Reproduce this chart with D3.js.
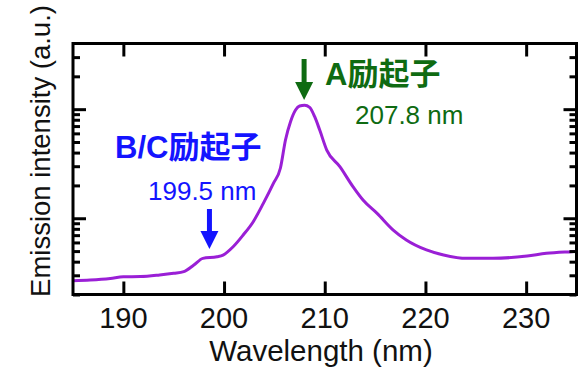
<!DOCTYPE html>
<html>
<head>
<meta charset="utf-8">
<script src="https://cdn.jsdelivr.net/npm/d3@7"></script>
<style>
  html, body { margin: 0; padding: 0; background: #fff; }
  svg { display: block; font-family: "Liberation Sans", Arial, "Noto Sans CJK SC", sans-serif; }
</style>
</head>
<body>
<svg id="chart" width="585" height="367"></svg>
<script>
// Emission spectrum — wavelength (nm) vs intensity (a.u., log scale)
const wavelength = [185.0, 186.7, 188.7, 190.0, 191.7, 193.6, 195.0, 196.0, 197.0, 197.9,
  199.3, 199.9, 200.9, 201.9, 202.9, 203.9, 204.9, 205.6, 206.1, 206.6,
  207.1, 207.5, 208.0, 208.5, 209.0, 209.5, 210.2, 211.5, 212.8, 213.8,
  215.2, 216.8, 218.1, 220.1, 221.8, 224.1, 226.7, 230.1, 232.0, 234.5, 235.0];
const intensity = [0.268, 0.272, 0.281, 0.291, 0.292, 0.302, 0.313, 0.324, 0.373, 0.429,
  0.444, 0.460, 0.548, 0.702, 0.930, 1.37, 2.09, 2.89, 5.22, 7.68,
  9.83, 10.69, 10.85, 10.40, 8.53, 6.44, 4.22, 2.97, 1.95, 1.47,
  1.11, 0.780, 0.632, 0.512, 0.460, 0.429, 0.429, 0.451, 0.477, 0.494, 0.497];

const xTicks = [190, 200, 210, 220, 230];
const yMajor = [1, 10];
const yMinor = [0.2, 0.3, 0.4, 0.5, 0.6, 0.7, 0.8, 0.9, 2, 3, 4, 5, 6, 7, 8, 9, 20, 30];

// peak annotations
const peaks = [
  { label: 'A励起子', nm: '207.8 nm', at: 207.8, color: '#0f6b12' },
  { label: 'B/C励起子', nm: '199.5 nm', at: 198.5, color: '#1414ff' },
];

const M = { left: 73, right: 576.5, top: 43.5, bottom: 294.5 };
const LINE = '#9a1fd6';

const svg = d3.select('#chart');

const x = d3.scaleLinear().domain([185, 235]).range([M.left, M.right]);
const y = d3.scaleLog().domain([0.2, 40]).range([M.bottom, M.top]);

// Spectrum line (clipped to frame)
svg.append('clipPath').attr('id', 'clip')
  .append('rect')
  .attr('x', M.left).attr('y', M.top)
  .attr('width', M.right - M.left).attr('height', M.bottom - M.top);

const pts = wavelength.map((w, i) => [w, intensity[i]]);
svg.append('path')
  .datum(pts)
  .attr('clip-path', 'url(#clip)')
  .attr('fill', 'none')
  .attr('stroke', LINE)
  .attr('stroke-width', 3)
  .attr('stroke-linejoin', 'round')
  .attr('d', d3.line().x(d => x(d[0])).y(d => y(d[1])).curve(d3.curveMonotoneX));

// Axes: ticks pointing inward on every side
function tickAxis(axisFn, scale, vals, size, tf) {
  const a = axisFn(scale).tickValues(vals).tickSize(size).tickFormat('');
  const g = svg.append('g').attr('transform', tf).call(a);
  g.select('.domain').remove();
  g.selectAll('line').attr('stroke', '#000').attr('stroke-width', 3);
  return g;
}

tickAxis(d3.axisTop, x, xTicks, 13, `translate(0,${M.bottom})`);
tickAxis(d3.axisBottom, x, xTicks, 13, `translate(0,${M.top})`);
tickAxis(d3.axisRight, y, yMajor, 13, `translate(${M.left},0)`);
tickAxis(d3.axisRight, y, yMinor, 7, `translate(${M.left},0)`);
tickAxis(d3.axisLeft, y, yMajor, 13, `translate(${M.right},0)`);
tickAxis(d3.axisLeft, y, yMinor, 7, `translate(${M.right},0)`);

// x tick labels
svg.append('g').selectAll('text')
  .data(xTicks)
  .enter().append('text')
  .attr('x', d => x(d))
  .attr('y', 327.5)
  .attr('text-anchor', 'middle')
  .attr('font-size', '29px')
  .attr('fill', '#111')
  .text(d => d);

// frame
svg.append('rect')
  .attr('x', M.left).attr('y', M.top)
  .attr('width', M.right - M.left).attr('height', M.bottom - M.top)
  .attr('fill', 'none').attr('stroke', '#000').attr('stroke-width', 3);

// axis titles
svg.append('text')
  .attr('x', 321).attr('y', 360.5)
  .attr('text-anchor', 'middle')
  .attr('font-size', '29.5px')
  .attr('fill', '#111')
  .text('Wavelength (nm)');

svg.append('text')
  .attr('transform', 'translate(50,151) rotate(-90)')
  .attr('text-anchor', 'middle')
  .attr('font-size', '27.5px')
  .attr('fill', '#111')
  .text('Emission intensity (a.u.)');

// down arrows
function arrow(cx, y0, tip, color) {
  const headH = 18, headW = 9;
  svg.append('line')
    .attr('x1', cx).attr('x2', cx)
    .attr('y1', y0).attr('y2', tip - headH + 2)
    .attr('stroke', color).attr('stroke-width', 5);
  svg.append('path')
    .attr('d', `M${cx - headW},${tip - headH} L${cx + headW},${tip - headH} L${cx},${tip} Z`)
    .attr('fill', color);
}

// A exciton
const pA = peaks[0];
arrow(x(pA.at) + 1.5, 59, 100, pA.color);
svg.append('text')
  .attr('x', 325).attr('y', 85)
  .attr('font-size', '31px').attr('font-weight', 'bold')
  .attr('fill', pA.color)
  .text(pA.label);
svg.append('text')
  .attr('x', 355).attr('y', 124)
  .attr('font-size', '26px')
  .attr('fill', pA.color)
  .text(pA.nm);

// B/C exciton
const pB = peaks[1];
arrow(x(pB.at) + 0.5, 209, 249, pB.color);
svg.append('text')
  .attr('x', 115).attr('y', 158)
  .attr('font-size', '31px').attr('font-weight', 'bold')
  .attr('fill', pB.color)
  .text(pB.label);
svg.append('text')
  .attr('x', 148).attr('y', 200)
  .attr('font-size', '26px')
  .attr('fill', pB.color)
  .text(pB.nm);
</script>
</body>
</html>
